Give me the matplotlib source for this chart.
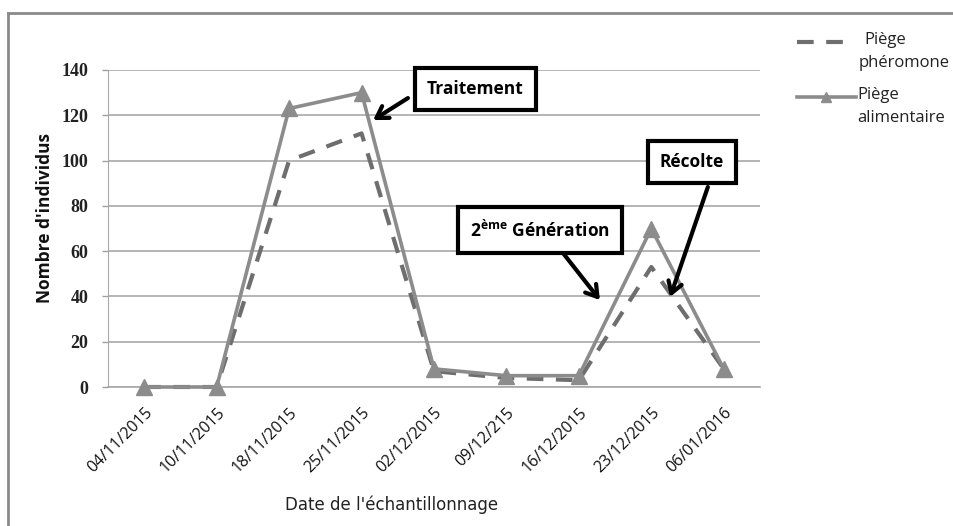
import matplotlib
matplotlib.use("Agg")
import matplotlib.pyplot as plt
from matplotlib.lines import Line2D

dates = ["04/11/2015", "10/11/2015", "18/11/2015", "25/11/2015", "02/12/2015",
         "09/12/215", "16/12/2015", "23/12/2015", "06/01/2016"]
piege_pheromone = [0, 0, 100, 112, 7, 4, 3, 53, 8]
piege_alimentaire = [0, 0, 123, 130, 8, 5, 5, 70, 8]
yticks = [0, 20, 40, 60, 80, 100, 120, 140]

W, H = 954, 526
fig = plt.figure(figsize=(W / 100, H / 100), dpi=100)
fig.patch.set_facecolor("white")

def fx(px):
    return px / W

def fy(py):
    return 1 - py / H

ax = fig.add_axes([fx(108), fy(387), (760 - 108) / W, (387 - 70) / H])
x = list(range(len(dates)))

ax.plot(x, piege_pheromone, color="#6e6e6e", lw=3, dashes=(4, 3), zorder=3, clip_on=False)
ax.plot(x, piege_alimentaire, color="#8c8c8c", lw=2.6, marker="^", markersize=12,
        markerfacecolor="#8c8c8c", markeredgecolor="#8c8c8c", zorder=4, clip_on=False)

ax.set_xlim(-0.5, len(dates) - 0.5)
ax.set_ylim(0, 140)
ax.set_yticks(yticks)
ax.set_yticklabels([str(v) for v in yticks], fontfamily="Liberation Serif",
                   fontweight="bold", fontsize=13, color="#222222")
ax.set_xticks(x)
ax.set_xticklabels(dates, rotation=45, ha="right", rotation_mode="anchor",
                   fontfamily="Open Sans", fontsize=11.5, color="#111111")
ax.tick_params(axis="x", length=0, pad=13)
ax.tick_params(axis="y", length=4, width=1, color="#a0a0a0", pad=10)
ax.grid(axis="y", color="#a8a8a8", lw=1.2)
ax.set_axisbelow(True)
for s in ["top", "right"]:
    ax.spines[s].set_visible(False)
ax.spines["left"].set_color("#a8a8a8")
ax.spines["bottom"].set_color("#a8a8a8")
ax.spines["bottom"].set_linewidth(1.2)

fig.text(fx(45), fy(218), "Nombre d'individus", rotation=90, ha="center", va="center",
         fontfamily="Open Sans", fontweight="bold", fontsize=12.5, color="#111111")
fig.text(fx(392), fy(505), "Date de l'échantillonnage", ha="center", va="center",
         fontfamily=["Liberation Sans Narrow", "DejaVu Sans"], fontsize=12, color="#222222")

# annotations
box = dict(boxstyle="square,pad=0.7", fc="white", ec="black", lw=3)
arrow = dict(arrowstyle="->,head_length=0.8,head_width=0.5", color="black", lw=3,
             shrinkA=0, shrinkB=0)
tf = dict(ha="center", va="center", fontfamily="Open Sans", fontweight="bold",
          fontsize=12.5, bbox=box, zorder=6)
ax.text(4.57, 131.6, "Traitement", clip_on=False, **tf)
ax.annotate("", xy=(3.16, 117.9), xytext=(3.64, 127.6), arrowprops=arrow, zorder=5)

ax.text(5.46, 69.3, "2$^{\\mathregular{ème}}$ Génération", **tf)
ax.annotate("", xy=(6.29, 38.4), xytext=(5.77, 59.6), arrowprops=arrow, zorder=5)

ax.text(7.56, 99.4, "Récolte", **tf)
ax.annotate("", xy=(7.26, 39.8), xytext=(7.78, 88.3), arrowprops=arrow, zorder=5)

# legend
fig.add_artist(Line2D([fx(797), fx(848)], [fy(42), fy(42)], color="#6e6e6e", lw=3,
                      dashes=(4, 3)))
fig.add_artist(Line2D([fx(797), fx(856)], [fy(97), fy(97)], color="#8c8c8c", lw=2.6))
fig.add_artist(Line2D([fx(826)], [fy(97)], color="#8c8c8c", marker="^", markersize=7,
                      lw=0))
lf = dict(fontfamily="Open Sans", fontsize=12, color="#222222", va="center", ha="left")
fig.text(fx(864), fy(40), "Piège", **lf)
fig.text(fx(859), fy(63), "phéromone", **lf)
fig.text(fx(857), fy(95), "Piège", **lf)
fig.text(fx(857), fy(118), "alimentaire", **lf)

# outer frame
fig.add_artist(Line2D([fx(8), fx(8)], [fy(13), 0], color="#8a8a8a", lw=2))
fig.add_artist(Line2D([fx(8), 1], [fy(13), fy(13)], color="#8a8a8a", lw=2))

fig.savefig("out.png", dpi=100, facecolor="white")
